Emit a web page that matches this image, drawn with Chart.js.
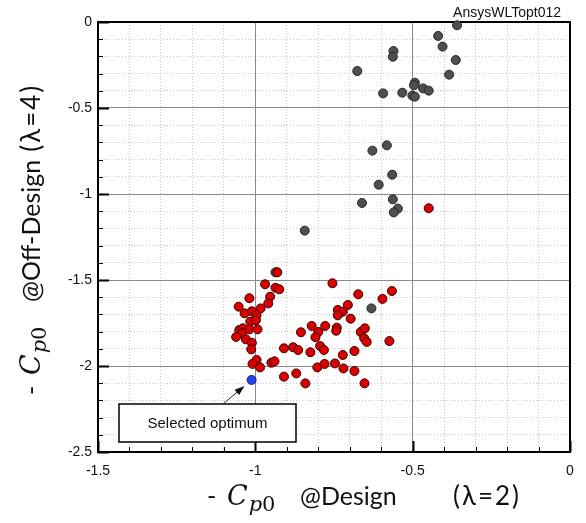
<!DOCTYPE html>
<html><head><meta charset="utf-8">
<script src="https://cdn.jsdelivr.net/npm/chart.js@4.4.1/dist/chart.umd.min.js"></script>
<style>html,body{margin:0;padding:0;background:#fff;}canvas{display:block;}</style>
</head><body>
<canvas id="c" width="586" height="523"></canvas>
<script>
// Off-design designs (gray)
const grayX = [-0.359,-0.419,-0.405,-0.363,-0.384,-0.561,-0.563,-0.676,-0.594,-0.533,-0.493,-0.496,-0.501,-0.493,-0.467,-0.449,-0.582,-0.628,-0.565,-0.608,-0.661,-0.563,-0.547,-0.560,-0.843,-0.631,-0.936];
const grayY = [-0.019,-0.081,-0.143,-0.221,-0.306,-0.169,-0.202,-0.285,-0.415,-0.411,-0.353,-0.368,-0.428,-0.434,-0.386,-0.399,-0.717,-0.748,-0.888,-0.946,-1.052,-1.031,-1.085,-1.107,-1.213,-1.665,-1.455];
// Designs (red)
const redX = [-0.449,-0.930,-0.969,-0.936,-0.924,-1.019,-0.953,-0.959,-0.983,-1.053,-1.034,-1.011,-0.996,-1.016,-0.998,-1.051,-1.040,-1.019,-0.993,-1.042,-1.061,-1.030,-1.011,-1.013,-0.996,-1.009,-0.985,-0.949,-0.939,-0.909,-0.880,-0.864,-0.855,-0.825,-0.821,-0.800,-0.809,-0.778,-0.794,-0.782,-0.803,-0.780,-0.755,-0.909,-0.870,-0.841,-0.673,-0.566,-0.596,-0.706,-0.738,-0.722,-0.738,-0.697,-0.741,-0.743,-0.665,-0.652,-0.654,-0.646,-0.574,-0.685,-0.722,-0.747,-0.720,-0.685,-0.653];
const redY = [-1.083,-1.455,-1.525,-1.545,-1.554,-1.606,-1.597,-1.636,-1.665,-1.655,-1.694,-1.682,-1.703,-1.742,-1.733,-1.791,-1.781,-1.787,-1.787,-1.810,-1.831,-1.845,-1.865,-1.903,-1.965,-1.988,-2.008,-1.981,-1.973,-1.897,-1.891,-1.907,-1.804,-1.920,-1.767,-1.802,-1.833,-1.767,-1.884,-1.907,-2.008,-1.988,-1.519,-2.062,-2.043,-2.101,-1.583,-1.564,-1.610,-1.645,-1.674,-1.684,-1.705,-1.725,-1.777,-1.795,-1.802,-1.781,-1.839,-1.860,-1.855,-1.913,-1.936,-1.985,-2.014,-2.029,-2.101];
// Selected optimum (blue)
const optimumX = [-1.012];
const optimumY = [-2.081];

const xMajorTicks = [-1.5, -1, -0.5, 0];
const yMajorTicks = [0, -0.5, -1, -1.5, -2, -2.5];
const xTickLabels = ['-1.5', '-1', '-0.5', '0'];
const yTickLabels = ['0', '-0.5', '-1', '-1.5', '-2', '-2.5'];
const titleText = 'AnsysWLTopt012';
const annotationText = 'Selected optimum';

function pts(xs, ys) { return xs.map((x, i) => ({ x: x, y: ys[i] })); }
function majorIndex(v, majors) { return majors.findIndex(m => Math.abs(m - v) < 1e-6); }

function drawAxisLabel(ctx, rest, tail, startX, baseY, tailX) {
  let x = startX;
  ctx.textBaseline = 'alphabetic';
  ctx.textAlign = 'left';
  ctx.font = '25px Lato, "Noto Sans", sans-serif';
  ctx.fillText('-', x, baseY);
  ctx.font = 'italic 27px "DejaVu Serif", serif';
  ctx.fillText('C', startX + 20, baseY);
  x = startX + 20 + ctx.measureText('C').width + 1;
  ctx.font = 'italic 21px "DejaVu Serif", serif';
  ctx.fillText('p', x, baseY + 6);
  x += ctx.measureText('p').width;
  ctx.font = '21px "DejaVu Serif", serif';
  ctx.fillText('0', x, baseY + 6);
  ctx.font = '25px Lato, "Noto Sans", sans-serif';
  x = startX + 93;
  ctx.fillText(rest, x, baseY);
  x += ctx.measureText(rest).width;
  ctx.font = '26px Lato, "Noto Sans", sans-serif';
  ctx.letterSpacing = '2px';
  if (tailX === null) {
    x += 8;
    ctx.fillText(tail, x, baseY);
  } else {
    ctx.fillText(tail, tailX, baseY);
  }
  ctx.letterSpacing = '0px';
}

const decorations = {
  id: 'decorations',
  beforeDatasetsDraw(chart) {
    const { ctx, chartArea: a, scales: { x, y } } = chart;
    ctx.save();
    ctx.strokeStyle = '#000';
    x.ticks.forEach(t => {
      const px = Math.round(x.getPixelForValue(t.value)) + 0.5;
      const major = majorIndex(t.value, xMajorTicks) >= 0;
      ctx.lineWidth = major ? 2 : 1;
      ctx.beginPath(); ctx.moveTo(px, a.bottom); ctx.lineTo(px, a.bottom - (major ? 11 : 5)); ctx.stroke();
    });
    y.ticks.forEach(t => {
      const py = Math.round(y.getPixelForValue(t.value)) + 0.5;
      const major = majorIndex(t.value, yMajorTicks) >= 0;
      ctx.lineWidth = major ? 2 : 1;
      ctx.beginPath(); ctx.moveTo(a.left, py); ctx.lineTo(a.left + (major ? 11 : 5), py); ctx.stroke();
    });
    ctx.lineWidth = 2;
    ctx.strokeRect(a.left, a.top, a.right - a.left, a.bottom - a.top);
    ctx.restore();
  },
  afterDatasetsDraw(chart) {
    const { ctx, chartArea: a, scales: { x, y } } = chart;
    ctx.save();
    const bx = a.left + 21, by = a.bottom - 48, bw = 177, bh = 38;
    ctx.fillStyle = '#fff';
    ctx.fillRect(bx, by, bw, bh);
    ctx.lineWidth = 1.5;
    ctx.strokeStyle = '#000';
    ctx.strokeRect(bx, by, bw, bh);
    ctx.fillStyle = '#111';
    ctx.font = '15px "Liberation Sans", Arial, sans-serif';
    ctx.textAlign = 'center';
    ctx.textBaseline = 'middle';
    ctx.fillText(annotationText, bx + bw / 2, by + bh / 2 + 1);
    const tx = x.getPixelForValue(optimumX[0]) - 7;
    const ty = y.getPixelForValue(optimumY[0]) + 6;
    const sx = bx + 104, sy = by;
    const ang = Math.atan2(ty - sy, tx - sx);
    ctx.strokeStyle = '#222';
    ctx.lineWidth = 1;
    ctx.beginPath(); ctx.moveTo(sx, sy); ctx.lineTo(tx - 8 * Math.cos(ang), ty - 8 * Math.sin(ang)); ctx.stroke();
    ctx.fillStyle = '#111';
    ctx.beginPath();
    ctx.moveTo(tx, ty);
    ctx.lineTo(tx - 10 * Math.cos(ang) + 3.5 * Math.sin(ang), ty - 10 * Math.sin(ang) - 3.5 * Math.cos(ang));
    ctx.lineTo(tx - 10 * Math.cos(ang) - 3.5 * Math.sin(ang), ty - 10 * Math.sin(ang) + 3.5 * Math.cos(ang));
    ctx.closePath(); ctx.fill();
    ctx.restore();
  },
  afterDraw(chart) {
    const { ctx, chartArea: a } = chart;
    ctx.save();
    ctx.fillStyle = '#111';
    ctx.font = '14px "Liberation Sans", Arial, sans-serif';
    ctx.textAlign = 'right';
    ctx.textBaseline = 'alphabetic';
    ctx.fillText(titleText, a.right - 9, 17);
    drawAxisLabel(ctx, '@Design', '(\u03bb=2)', 207, 505, 453);
    ctx.translate(40, 395);
    ctx.rotate(-Math.PI / 2);
    drawAxisLabel(ctx, '@Off-Design', '(\u03bb=4)', 0, 0, null);
    ctx.restore();
  }
};

const gridColor = (majors) => (c) => (c.tick && majorIndex(c.tick.value, majors) >= 0) ? '#8a8a8a' : '#c8c8c8';
const gridDash = (majors) => (c) => (c.tick && majorIndex(c.tick.value, majors) >= 0) ? [] : [1, 2];

new Chart(document.getElementById('c'), {
  type: 'scatter',
  data: {
    datasets: [
      { label: 'Selected optimum', data: pts(optimumX, optimumY), backgroundColor: '#2340f5', borderColor: '#141a70', borderWidth: 1, pointRadius: 4.5, clip: false },
      { label: 'Design', data: pts(redX, redY), backgroundColor: '#d80000', borderColor: '#3a0000', borderWidth: 1, pointRadius: 4.5, clip: false },
      { label: 'Off-design', data: pts(grayX, grayY), backgroundColor: '#4f4f4f', borderColor: '#262626', borderWidth: 1, pointRadius: 4.5, clip: false }
    ]
  },
  options: {
    responsive: false,
    animation: false,
    events: [],
    layout: { padding: { top: 22, right: 16, left: 0, bottom: 0 } },
    plugins: { legend: { display: false }, tooltip: { enabled: false } },
    scales: {
      x: {
        type: 'linear', min: -1.5, max: 0,
        afterFit(s) { s.height = 71; },
        ticks: {
          stepSize: 0.1, autoSkip: false, maxRotation: 0, padding: 11,
          color: '#111', font: { family: '"Liberation Sans", Arial, sans-serif', size: 14 },
          callback: (v) => { const i = majorIndex(v, xMajorTicks); return i >= 0 ? xTickLabels[i] : ''; }
        },
        grid: { color: gridColor(xMajorTicks), lineWidth: 1, drawTicks: false },
        border: { display: false, dash: gridDash(xMajorTicks) }
      },
      y: {
        type: 'linear', min: -2.5, max: 0,
        afterFit(s) { s.width = 98; },
        ticks: {
          stepSize: 0.1, autoSkip: false, padding: 6,
          color: '#111', font: { family: '"Liberation Sans", Arial, sans-serif', size: 14 },
          callback: (v) => { const i = majorIndex(v, yMajorTicks); return i >= 0 ? yTickLabels[i] : ''; }
        },
        grid: { color: gridColor(yMajorTicks), lineWidth: 1, drawTicks: false },
        border: { display: false, dash: gridDash(yMajorTicks) }
      }
    }
  },
  plugins: [decorations]
});
</script>
</body></html>
